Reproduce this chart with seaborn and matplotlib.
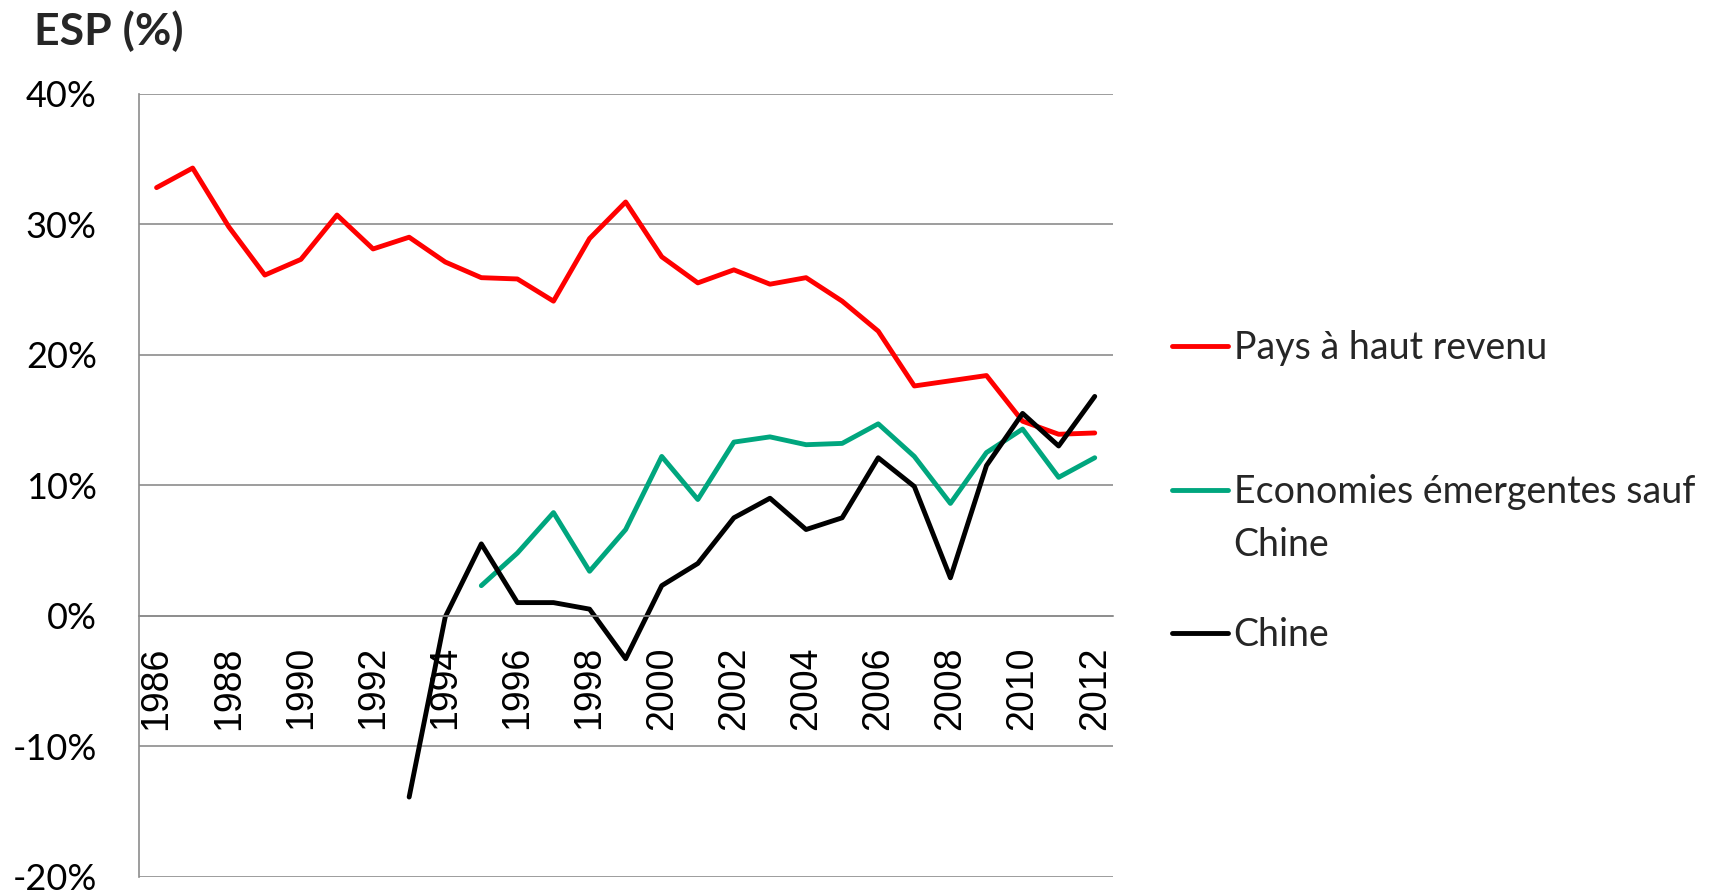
import pandas as pd
import seaborn as sns
import matplotlib.pyplot as plt
from matplotlib.lines import Line2D

sns.set_theme(style="white")
plt.rcParams['font.family'] = ['Lato', 'DejaVu Sans']

# ESP (%) par groupe de pays
annees_pays = list(range(1986, 2013))
pays_haut_revenu = [32.8, 34.3, 29.8, 26.1, 27.3, 30.7, 28.1, 29.0, 27.1, 25.9,
                    25.8, 24.1, 28.9, 31.7, 27.5, 25.5, 26.5, 25.4, 25.9, 24.1,
                    21.8, 17.6, 18.0, 18.4, 14.9, 13.9, 14.0]
annees_emergentes = list(range(1995, 2013))
emergentes = [2.3, 4.8, 7.9, 3.4, 6.6, 12.2, 8.9, 13.3, 13.7, 13.1, 13.2, 14.7,
              12.2, 8.6, 12.5, 14.3, 10.6, 12.1]
annees_chine = list(range(1993, 2013))
chine = [-13.9, -0.1, 5.5, 1.0, 1.0, 0.5, -3.3, 2.3, 4.0, 7.5, 9.0, 6.6, 7.5,
         12.1, 9.9, 2.9, 11.5, 15.5, 13.0, 16.8]

series = ["Pays à haut revenu", "Economies émergentes sauf Chine", "Chine"]
couleurs = ["#FF0000", "#00A67E", "#000000"]
yticks = [-20, -10, 0, 10, 20, 30, 40]
ytick_labels = ["-20%", "-10%", "0%", "10%", "20%", "30%", "40%"]
xticks = list(range(1986, 2013, 2))

df = pd.concat([
    pd.DataFrame({"annee": annees_pays, "esp": pays_haut_revenu, "serie": series[0]}),
    pd.DataFrame({"annee": annees_emergentes, "esp": emergentes, "serie": series[1]}),
    pd.DataFrame({"annee": annees_chine, "esp": chine, "serie": series[2]}),
])

fig = plt.figure(figsize=(17.36, 8.92), dpi=100)
ax = fig.add_axes([0.0798, 0.0172, 0.5612, 0.8778])

sns.lineplot(data=df, x="annee", y="esp", hue="serie", hue_order=series,
             palette=couleurs, linewidth=3.5, legend=False, ax=ax)
for ln in ax.lines:
    ln.set_solid_joinstyle("round")
    ln.set_solid_capstyle("round")

grille = "#8C8C8C"
for s in ["top", "right"]:
    ax.spines[s].set_visible(False)
# l'axe des categories passe par 0 (a regler avant les etiquettes)
ax.spines["bottom"].set_position(("data", 0))
ax.spines["bottom"].set_color(grille)
ax.spines["bottom"].set_linewidth(1.2)
ax.spines["left"].set_color(grille)
ax.spines["left"].set_linewidth(1.2)

ax.set_xlim(1985.5, 2012.5)
ax.set_ylim(-20, 40)
ax.set_yticks(yticks)
ax.set_yticklabels(ytick_labels, fontsize=26)
ax.set_xticks(xticks)
ax.set_xticklabels([str(a) for a in xticks], rotation=90, fontsize=27,
                   family="Liberation Sans")
ax.set_xlabel("")
ax.set_ylabel("")

ax.grid(axis="y", color=grille, linewidth=1.2)
ax.set_axisbelow(True)
ax.tick_params(axis="x", length=0, pad=22, colors="black")
ax.tick_params(axis="y", length=0, pad=30, colors="black")

# legende, une entree par serie
pos_y = [1 - 348 / 892, 1 - 492 / 892, 1 - 635 / 892]
textes = ["Pays à haut revenu", "Economies émergentes sauf", "Chine"]
for couleur, texte, y in zip(couleurs, textes, pos_y):
    poignee = Line2D([], [], color=couleur, linewidth=3.5)
    fig.legend(handles=[poignee], labels=[texte], loc="center left",
               bbox_to_anchor=(1172 / 1736, y), frameon=False, fontsize=27,
               handlelength=1.5, handletextpad=0.14, borderpad=0,
               borderaxespad=0)
fig.text(1233 / 1736, 1 - 545 / 892, "Chine", fontsize=27, va="center")

fig.text(34 / 1736, 1 - 45 / 892, "ESP (%)", fontsize=32, fontweight="bold",
         va="baseline")

fig.savefig("out.png", dpi=100)
